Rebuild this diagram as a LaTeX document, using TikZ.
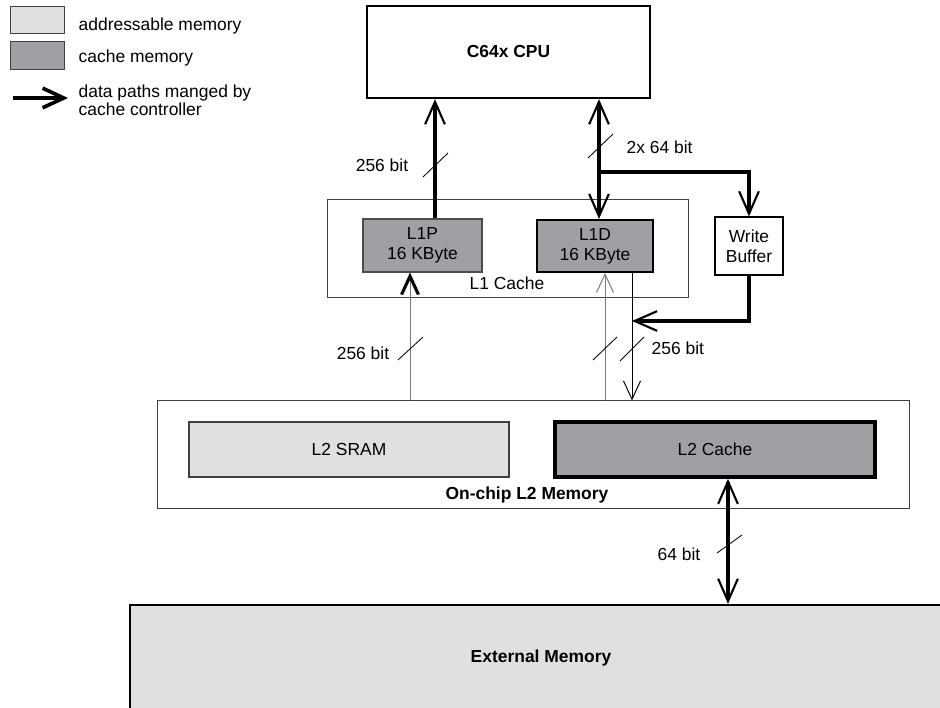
\documentclass[tikz,border=0pt]{standalone}
\usepackage{fontspec}
\setmainfont{Liberation Sans}
\usepackage{xcolor}
\usepackage{tikz}
\usetikzlibrary{arrows.meta,calc}
\definecolor{memlight}{RGB}{224,224,224}
\definecolor{memdark}{RGB}{160,160,164}
\definecolor{wiregray}{RGB}{120,120,120}

\begin{document}
\begin{tikzpicture}[x=0.025cm,y=-0.025cm,
  font=\fontsize{12.4}{14.2}\selectfont,
  mem/.style 2 args={draw,minimum width=#1,minimum height=#2,inner sep=0pt,align=center},
  bus/.style={line width=2.8pt,-{Straight Barb[length=16pt,width=14pt,line width=1.5pt]}},
  bus2/.style={line width=2.8pt,{Straight Barb[length=16pt,width=14pt,line width=1.5pt]}-{Straight Barb[length=16pt,width=14pt,line width=1.5pt]}},
  wire/.style={line width=0.7pt,wiregray,-{Straight Barb[length=13pt,width=12pt]}},
  tk/.style={line width=0.6pt},
  lb/.style={inner sep=1pt}]
\useasboundingbox (0,0) rectangle (940,708);
% legend
\node[mem={1.35cm}{0.675cm},fill=memlight,draw=black!75] (keyaddr) at (37,19.5) {};
\node[mem={1.35cm}{0.7cm},fill=memdark,draw=black!75] (keycache) at (37,55) {};
\node[lb,anchor=west] (keyaddrtxt) at (77,25.5) {addressable memory};
\node[lb,anchor=west] (keycachetxt) at (77,58) {cache memory};
\coordinate (keyfrom) at (13,98);
\coordinate (keyto) at (68,98);
\node[lb,anchor=west,align=left,font=\fontsize{12.4}{12.8}\selectfont] (keybustxt) at (77,100) {data paths manged by\\cache controller};
\draw[line width=2.8pt,-{Straight Barb[length=15pt,width=14pt,line width=2.6pt]}] (keyfrom) -- (keyto);
% blocks
\node[mem={7.075cm}{2.3cm},line width=1.6pt] (cpu) at (508.5,52) {\bfseries C64x CPU};
\node[mem={9cm}{2.425cm},draw=black!75,line width=0.7pt] (l1) at (508,248.5) {};
\node[lb] (l1txt) at (507,283) {L1 Cache};
\node[mem={2.975cm}{1.325cm},fill=memdark,draw=black!70,line width=0.8pt] (l1p) at (422.5,245.5) {L1P\\16 KByte};
\node[mem={2.9cm}{1.3cm},fill=memdark,line width=1.4pt] (l1d) at (595,246) {L1D\\16 KByte};
\node[mem={1.7cm}{1.45cm},line width=0.8pt] (wbuf) at (749,246) {Write\\Buffer};
\node[mem={18.775cm}{2.675cm},draw=black!75,line width=0.7pt] (l2) at (533.5,454.5) {};
\node[mem={8cm}{1.375cm},fill=memlight,draw=black!75,line width=0.8pt] (l2sram) at (349,449.5) {L2 SRAM};
\node[mem={8cm}{1.375cm},fill=memdark,line width=2.5pt] (l2cache) at (715,449.5) {L2 Cache};
\node[lb] (l2txt) at (527,495) {\bfseries On-chip L2 Memory};
\node[mem={20.55cm}{2.65cm},fill=memlight,line width=1.6pt] (ext) at (541,658) {\bfseries External Memory};
% bus positions
\coordinate (xa) at (435,0);
\coordinate (xb) at (599,0);
\coordinate (xd) at (410,0);
\coordinate (xe) at (605,0);
\coordinate (xf) at (632,0);
\coordinate (xg) at (728,0);
\coordinate (fork) at (599,172);
\coordinate (wbjoin) at (632,321);
% data paths
\draw[bus] (l1p.north -| xa) -- (cpu.south -| xa);
\draw[bus2] (cpu.south -| xb) -- (l1d.north -| xb);
\draw[bus] (fork) -| (wbuf.north);
\draw[bus] (wbuf.south) |- (wbjoin);
\draw[wire,-{Straight Barb[length=13pt,width=12pt,line width=2.2pt,color=black]}] (l2.north -| xd) -- (l1p.south -| xd);
\draw[wire] (l2.north -| xe) -- (l1d.south -| xe);
\draw[wire,black] (l1d.south -| xf) -- (l2.north -| xf);
\draw[bus2] (l2cache.south -| xg) -- (ext.north -| xg);
% bus widths
\draw[tk] (423,177) -- (448,153);
\draw[tk] (588,158) -- (613,134);
\draw[tk] (398,360) -- (423,337);
\draw[tk] (593,360) -- (617,337);
\draw[tk] (620,361) -- (644,337);
\draw[tk] (717,553) -- (742,535);
\node[lb] (bwl1p) at (382,165) {256 bit};
\node[lb,anchor=west] (bwl1d) at (625,147) {2x 64 bit};
\node[lb] (bwl2p) at (363,353) {256 bit};
\node[lb,anchor=west] (bwl2d) at (650,348) {256 bit};
\node[lb] (bwext) at (679,554) {64 bit};
\end{tikzpicture}
\end{document}
